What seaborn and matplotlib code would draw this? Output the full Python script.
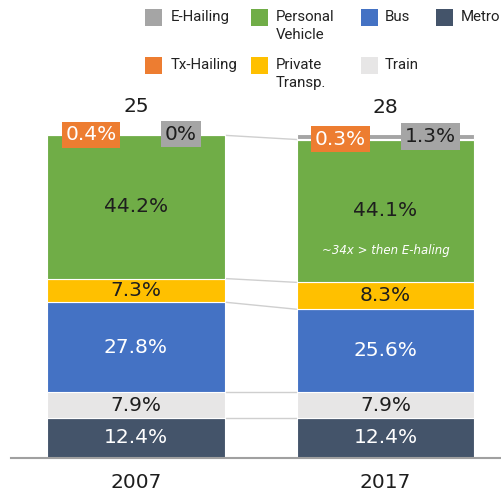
import matplotlib
matplotlib.use("Agg")
import matplotlib.pyplot as plt
from matplotlib.patches import Rectangle
import numpy as np
import pandas as pd
import seaborn as sns

# Mode share of daily trips (%), stacked bottom to top
years = ["2007", "2017"]
totals = [25, 28]

modes = ["Metro", "Train", "Bus", "Private\nTransp.", "Personal\nVehicle",
         "Tx-Hailing", "E-Hailing"]
metro = [12.4, 12.4]
train = [7.9, 7.9]
bus = [27.8, 25.6]
private_transp = [7.3, 8.3]
personal_vehicle = [44.2, 44.1]
tx_hailing = [0.4, 0.3]
e_hailing = [0.0, 1.3]

shares = [metro, train, bus, private_transp, personal_vehicle, tx_hailing, e_hailing]

colors = {
    "Metro": "#44546A",
    "Train": "#E7E6E6",
    "Bus": "#4472C4",
    "Private\nTransp.": "#FFC000",
    "Personal\nVehicle": "#70AD47",
    "Tx-Hailing": "#ED7D31",
    "E-Hailing": "#A5A5A5",
}
label_colors = {
    "Metro": "white",
    "Train": "#1e1e1e",
    "Bus": "white",
    "Private\nTransp.": "#1e1e1e",
    "Personal\nVehicle": "#1e1e1e",
}

df = pd.DataFrame(
    [{"year": y, "mode": m, "share": s[i]}
     for m, s in zip(modes, shares) for i, y in enumerate(years)]
)

sns.set_theme(style="white")
plt.rcParams["font.family"] = ["DejaVu Sans"]

W, H = 501, 495
fig = plt.figure(figsize=(W / 100, H / 100), dpi=100)
ax = fig.add_axes([11 / W, (H - 458) / H, (W - 11) / W, (458 - 100) / H])

bar_w = 0.71
bottoms = np.zeros(len(years))
for mode in modes:
    sub = df[df["mode"] == mode]
    sns.barplot(data=sub, x="year", y="share", order=years,
                color=colors[mode], saturation=1, width=bar_w,
                bottom=bottoms.copy(), edgecolor="white", linewidth=0.8,
                errorbar=None, ax=ax, zorder=2)
    bottoms = bottoms + sub.set_index("year").loc[years, "share"].to_numpy()

cum = np.cumsum(np.array(shares), axis=0)

# thin connectors between matching segment boundaries
for k in range(5):
    ax.plot([bar_w / 2, 1 - bar_w / 2], [cum[k, 0], cum[k, 1]],
            color="#cfcfcf", lw=1.0, zorder=1, solid_capstyle="butt")

# in-bar value labels
for k, mode in enumerate(modes[:5]):
    for i in range(len(years)):
        v = shares[k][i]
        ax.text(i, cum[k, i] - v / 2, f"{v:.1f}%", ha="center", va="center",
                color=label_colors[mode], fontsize=14.5, zorder=4)

# boxed labels for the thin top segments
for i in range(len(years)):
    tx_mid = cum[5, i] - tx_hailing[i] / 2
    eh_mid = cum[6, i] - e_hailing[i] / 2
    ax.text(i - 0.18, tx_mid, f"{tx_hailing[i]:g}%", ha="center", va="center",
            color="white", fontsize=14.5, zorder=5,
            bbox=dict(boxstyle="square,pad=0.18", fc=colors["Tx-Hailing"], ec="none"))
    ax.text(i + 0.18, eh_mid, f"{e_hailing[i]:g}%", ha="center", va="center",
            color="#1e1e1e", fontsize=14.5, zorder=5,
            bbox=dict(boxstyle="square,pad=0.18", fc=colors["E-Hailing"], ec="none"))
    ax.annotate(f"{totals[i]}", (i, cum[6, i]), xytext=(0, 19.5),
                textcoords="offset points", ha="center", va="center",
                fontsize=14.5, color="#1e1e1e")

ratio = personal_vehicle[1] / e_hailing[1]
ax.text(1, 64, f"~{ratio:.0f}x > then E-haling", ha="center", va="center",
        color="white", fontsize=8.5, style="italic", zorder=4)

ax.set_xlim(-0.501, 1.463)
ax.set_ylim(0, 110.5)
ax.set_xlabel("")
ax.set_ylabel("")
ax.set_yticks([])
for s in ["left", "top", "right"]:
    ax.spines[s].set_visible(False)
ax.spines["bottom"].set_color("#a0a0a0")
ax.spines["bottom"].set_linewidth(1.5)
ax.tick_params(axis="x", length=0, pad=11, labelsize=14.5, labelcolor="#1e1e1e")

# legend laid out in two rows
legend_items = [
    ("E-Hailing", 145, 171, 9),
    ("Personal\nVehicle", 251, 276, 9),
    ("Bus", 361, 385, 9),
    ("Metro", 436, 461, 9),
    ("Tx-Hailing", 145, 171, 57),
    ("Private\nTransp.", 251, 276, 57),
    ("Train", 361, 385, 57),
]
for label, px, tx, py in legend_items:
    fig.patches.append(Rectangle((px / W, 1 - (py + 17) / H), 17 / W, 17 / H,
                                 transform=fig.transFigure, fc=colors[label],
                                 ec="none"))
    fig.text(tx / W, 1 - (py + 1) / H, label, ha="left", va="top",
             fontsize=10.8, color="#222222", linespacing=1.35,
             family=["Roboto", "DejaVu Sans"])

fig.savefig("out.png", dpi=100)
